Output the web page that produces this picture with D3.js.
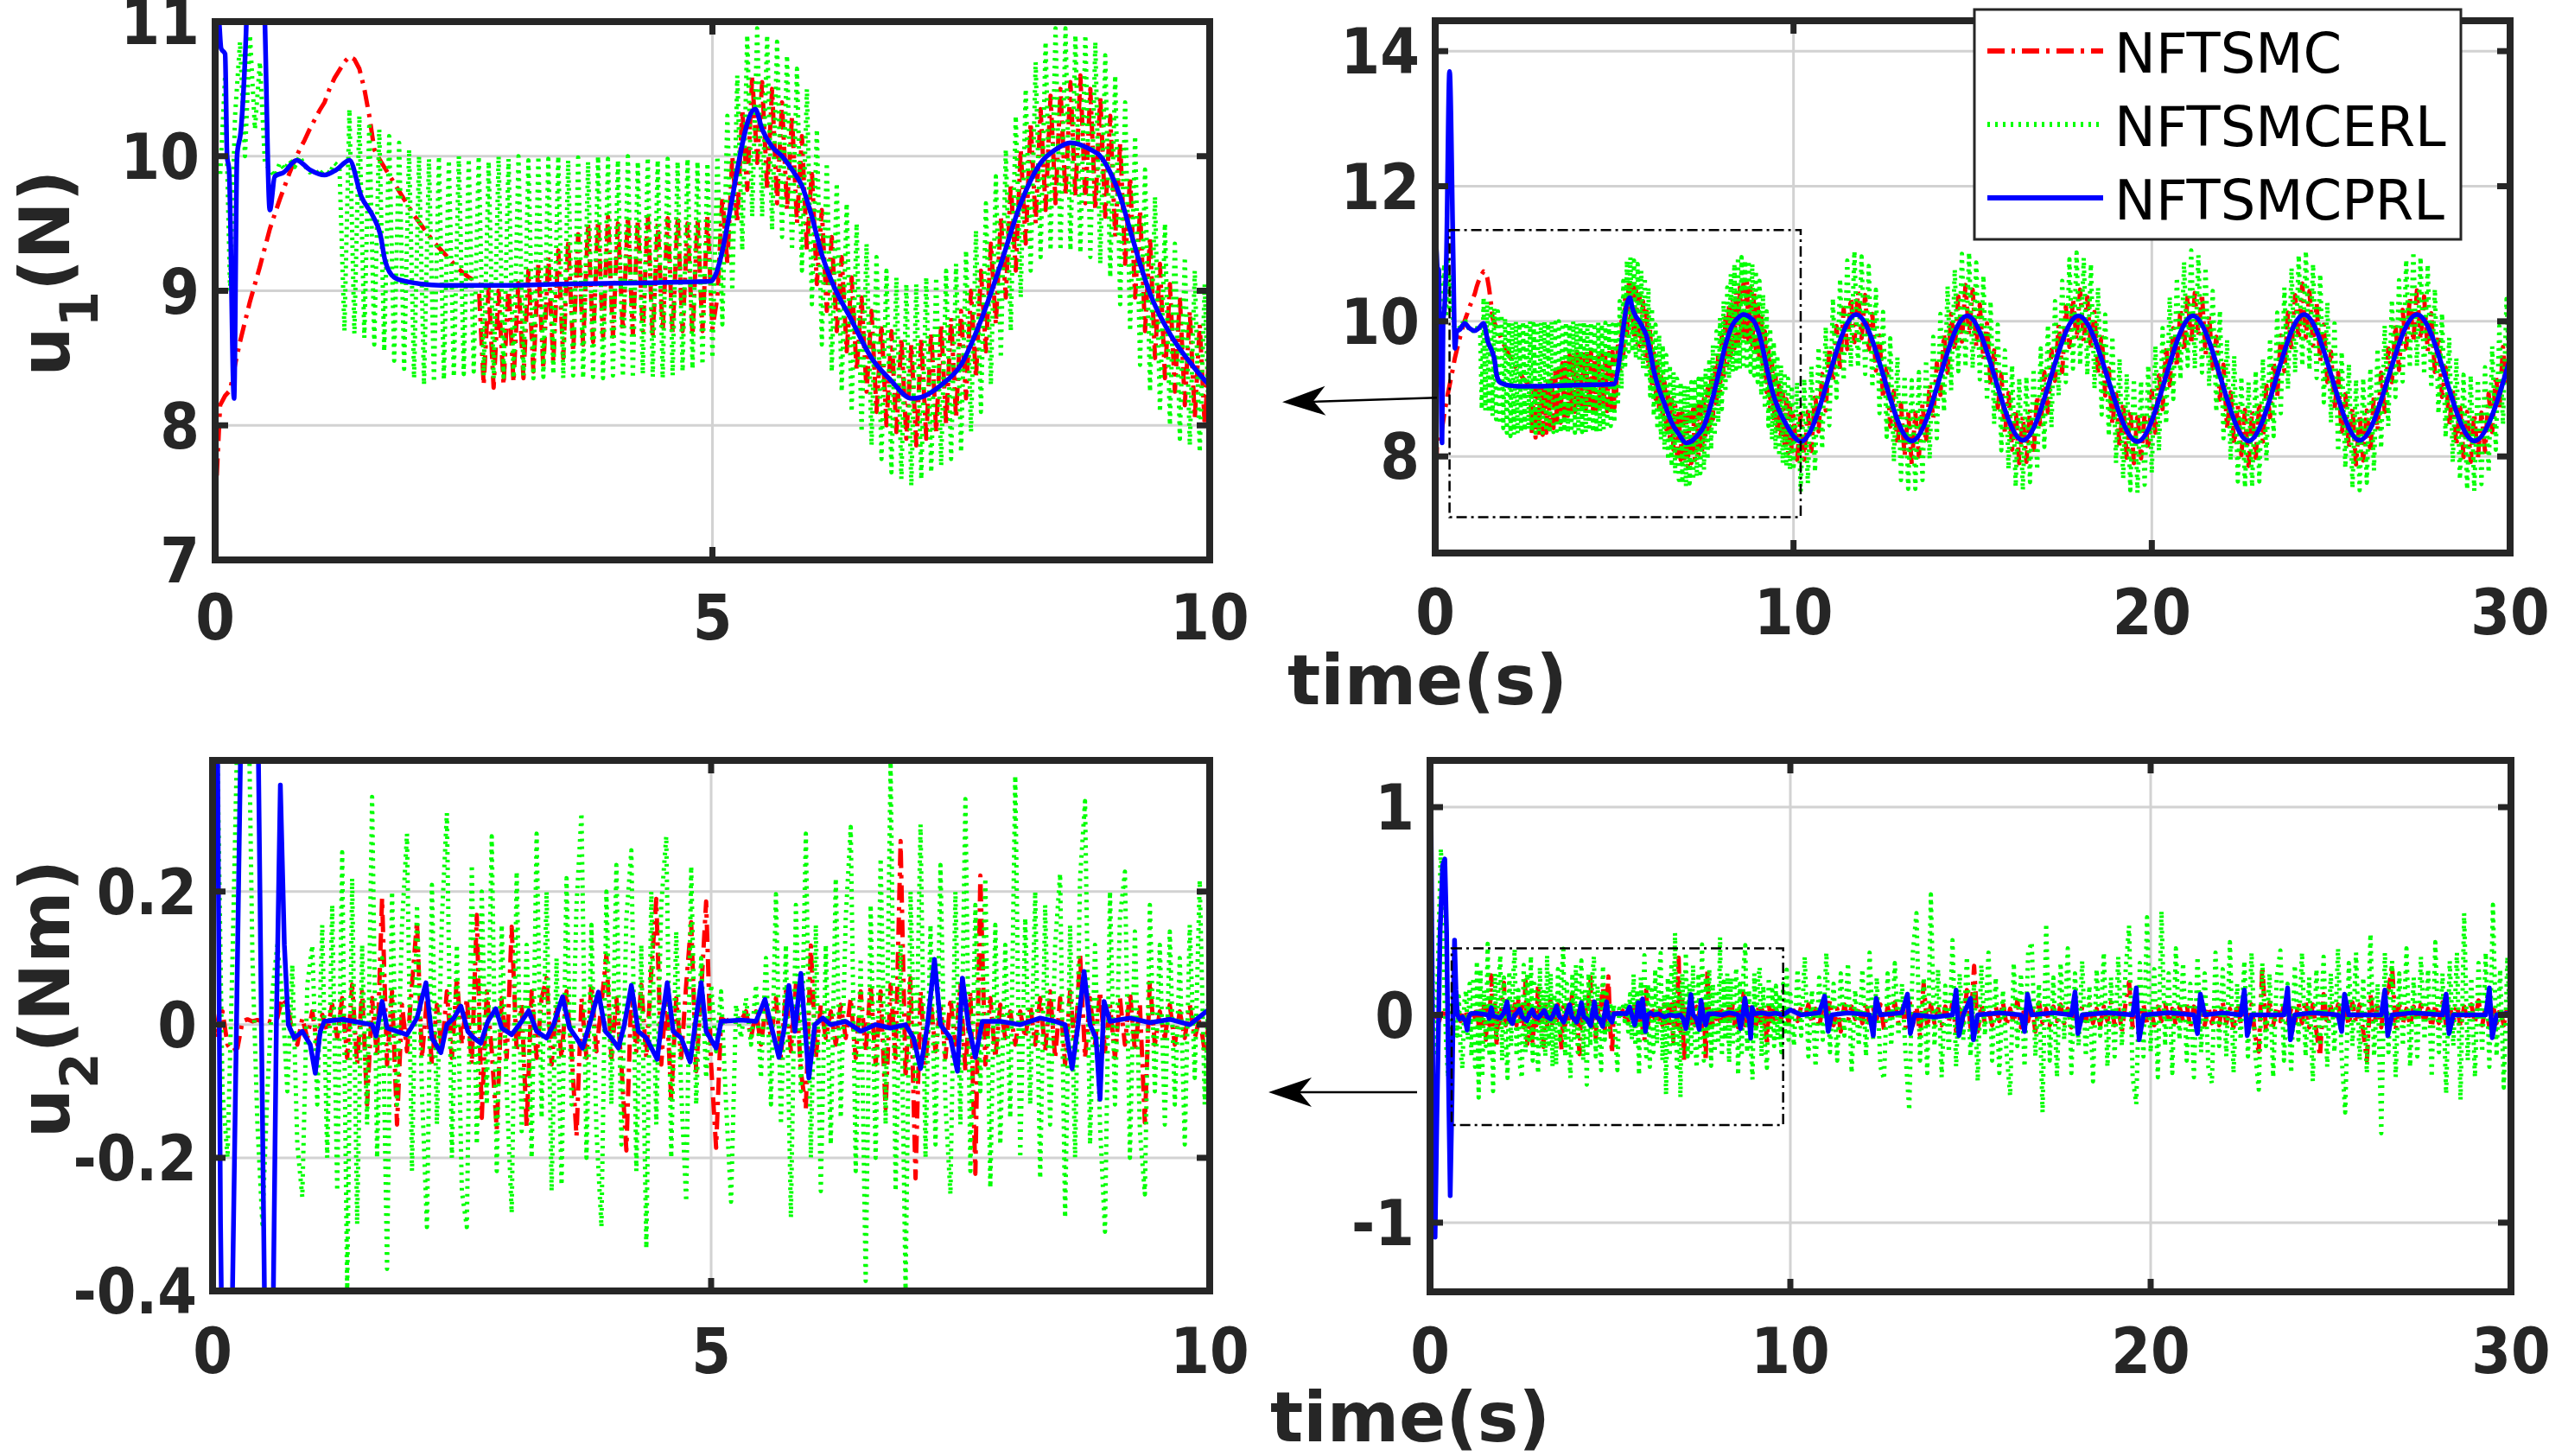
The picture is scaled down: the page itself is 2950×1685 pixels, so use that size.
<!DOCTYPE html>
<html>
<head>
<meta charset="utf-8">
<script src="https://cdn.jsdelivr.net/npm/d3@7"></script>
<style>
  body { margin: 0; background: #fff; }
  svg { display: block; }
</style>
</head>
<body>
<svg id="chart" width="2950" height="1685"></svg>
<script>
// ---- data ----
// first 10 s sampled every 0.05 s, 10..30 s every 0.1 s
const redU1a = [7.37,8.15,8.22,8.26,8.45,8.62,8.77,8.92,9.05,9.18,9.32,9.46,9.57,9.68,
  9.78,9.88,9.97,10.05,10.12,10.2,10.27,10.34,10.4,10.5,10.58,10.64,10.7,10.74,
  10.72,10.65,10.5,10.3,10.05,9.98,9.92,9.86,9.8,9.74,9.68,9.62,9.56,9.51,
  9.46,9.41,9.36,9.32,9.28,9.24,9.2,9.16,9.13,9.1,9.08,9.05,
  8.3,9.02,8.28,9.0,8.3,9.04,8.32,9.08,8.35,9.15,8.4,9.2,8.42,9.25,
  8.47,9.3,8.5,9.38,8.55,9.42,8.6,9.5,8.62,9.52,8.66,9.55,8.66,9.5,
  8.7,9.55,8.68,9.52,8.7,9.55,8.66,9.5,8.7,9.54,8.68,9.55,8.7,9.5,
  8.67,9.53,8.7,9.55,8.72,
  8.95,9.7,9.2,10.0,9.5,10.35,9.75,10.6,9.95,10.55,9.75,10.5,9.65,10.4,
  9.6,10.3,9.5,10.15,9.3,9.9,9.05,9.6,8.85,9.4,8.7,9.25,8.55,9.1,
  8.4,8.95,8.25,8.85,8.1,8.75,8.0,8.7,7.95,8.65,7.9,8.6,7.85,8.65,
  7.9,8.7,7.95,8.75,8.0,8.8,8.05,8.85,8.2,9.0,8.35,9.15,8.55,9.35,
  8.75,9.55,8.95,9.8,9.15,10.05,9.35,10.25,9.5,10.35,9.6,10.45,9.65,10.5,
  9.7,10.55,9.7,10.6,9.65,10.5,9.6,10.45,9.55,10.3,9.4,10.1,9.2,9.85,
  8.95,9.6,8.7,9.4,8.5,9.2,8.35,9.05,8.25,8.95,8.15,8.85,8.05,8.75,
  8.0,8.6];
const redU1b = [7.95,
  8.63,7.95,8.66,8.08,8.94,8.37,9.22,8.68,9.61,9.09,9.93,9.29,10.19,9.59,10.35,9.69,10.44,9.75,10.39,9.54,10.11,9.27,9.79,8.86,9.34,8.44,8.97,8.16,8.78,8.00,8.67,
  7.88,8.65,8.00,8.78,8.20,9.07,8.56,9.38,8.91,9.81,9.24,10.11,9.57,10.37,9.70,10.54,9.79,10.47,9.62,10.25,9.43,9.97,9.07,9.57,8.72,9.22,8.33,8.94,8.10,8.70,7.90,
  8.6,7.92,8.7,8.05,8.9,8.4,9.25,8.65,9.58,9.12,9.95,9.25,10.22,9.62,10.33,9.72,10.47,9.7,10.36,9.58,10.14,9.24,9.82,8.9,9.3,8.47,8.99,8.13,8.8,7.98,8.7,
  7.9,
  8.65,7.97,8.62,8.1,8.97,8.35,9.2,8.7,9.63,9.05,9.9,9.32,10.2,9.55,10.38,9.66,10.42,9.78,10.41,9.5,10.09,9.3,9.77,8.84,9.36,8.42,8.95,8.18,8.76,8.02,8.69,
  7.86,8.68,7.98,8.8,8.22,9.05,8.58,9.4,8.88,9.79,9.26,10.13,9.55,10.39,9.72,10.56,9.76,10.45,9.64,10.27,9.4,9.95,9.1,9.55,8.7,9.24,8.3,8.92,8.12,8.72,7.88,
  8.62,7.94,8.68,8.06,8.92,8.38,9.24,8.66,9.6,9.1,9.95,9.28,10.17,9.6,10.36,9.7,10.46,9.73,10.37,9.56,10.12,9.25,9.8,8.88,9.32,8.45,8.98,8.15,8.79,7.99,8.66,
  7.92,
  8.64,7.96,8.65,8.07,8.93,8.36,9.21,8.69,9.62,9.08,9.94];

const greenU1a = [10.0,9.85,10.6,9.0,10.3,10.85,10.0,10.9,10.2,10.7,9.95,9.9,9.85,9.95,
  9.9,9.97,9.92,10.0,9.93,9.88,9.9,9.86,9.9,9.87,9.95,9.92,
  8.7,10.35,8.68,10.3,8.65,10.25,8.6,10.2,8.55,10.15,8.48,10.1,8.42,10.05,
  8.35,10.0,8.3,9.98,8.32,10.0,8.34,9.97,8.36,10.0,8.38,9.98,8.4,10.0,
  8.37,9.96,8.35,10.0,8.36,9.98,8.35,10.0,8.37,9.97,8.35,10.0,8.36,9.98,
  8.38,10.0,8.35,9.97,8.37,9.99,8.35,9.96,8.36,10.0,8.35,9.98,8.37,9.97,
  8.36,10.0,8.35,9.96,8.38,9.99,8.36,9.97,8.35,9.98,8.37,9.96,8.4,9.98,
  8.42,9.96,8.45,9.95,8.5,
  10.0,8.75,10.3,9.0,10.6,9.3,10.9,9.55,10.95,9.55,10.9,9.45,10.85,9.4,
  10.75,9.3,10.65,9.15,10.5,8.9,10.2,8.6,9.95,8.4,9.8,8.25,9.65,8.1,
  9.5,7.95,9.35,7.85,9.25,7.75,9.15,7.65,9.1,7.6,9.05,7.55,9.05,7.6,
  9.1,7.65,9.1,7.7,9.15,7.75,9.2,7.8,9.3,7.95,9.45,8.1,9.65,8.3,
  9.85,8.5,10.05,8.7,10.3,8.95,10.5,9.15,10.7,9.25,10.85,9.3,10.95,9.3,
  10.95,9.3,10.9,9.28,10.9,9.25,10.85,9.2,10.75,9.1,10.6,8.9,10.4,8.7,
  10.15,8.45,9.9,8.25,9.7,8.1,9.5,8.0,9.35,7.9,9.25,7.85,9.15,7.8,
  9.05,7.8];
const greenU1b = [9.1,
  7.48,9.15,7.60,9.33,7.77,9.62,8.11,9.92,8.46,10.34,8.87,10.63,9.12,10.90,9.32,11.04,9.32,10.96,9.22,10.82,9.02,10.47,8.64,10.14,8.29,9.75,7.92,9.47,7.65,9.20,7.52,
  9.13,7.52,9.25,7.65,9.43,7.96,9.77,8.27,10.11,8.66,10.52,8.98,10.77,9.26,11.00,9.32,11.02,9.30,10.87,9.14,10.68,8.82,10.30,8.48,9.95,8.09,9.57,7.81,9.35,7.55,9.16,
  7.5,9.18,7.62,9.3,7.8,9.6,8.14,9.95,8.43,10.3,8.9,10.6,9.1,10.92,9.3,11.02,9.35,10.94,9.2,10.85,9.0,10.5,8.62,10.1,8.3,9.78,7.9,9.45,7.67,9.22,7.5,
  9.15,
  7.46,9.12,7.58,9.35,7.75,9.64,8.08,9.9,8.48,10.36,8.85,10.65,9.14,10.88,9.34,11.05,9.3,10.98,9.24,10.8,9.04,10.45,8.66,10.16,8.27,9.73,7.94,9.49,7.63,9.18,7.54,
  9.1,7.55,9.27,7.63,9.45,7.94,9.75,8.3,10.13,8.64,10.5,9.0,10.79,9.24,10.98,9.34,11.04,9.28,10.85,9.16,10.7,8.8,10.28,8.5,9.97,8.07,9.55,7.83,9.37,7.53,9.14,
  7.5,9.16,7.61,9.31,7.79,9.6,8.12,9.94,8.45,10.32,8.88,10.61,9.11,10.91,9.31,11.03,9.33,10.95,9.21,10.84,9.01,10.48,8.63,10.12,8.28,9.76,7.91,9.46,7.66,9.21,7.51,
  9.2,
  7.49,9.14,7.59,9.32,7.76,9.63,8.1,9.93,8.47,10.33,8.86];

// blue (PRL) is smooth: [time, value] key points
const blueU1 = [[0,11.3],[0.04,11.0],[0.06,10.8],[0.1,10.76],[0.12,10.0],[0.14,9.9],[0.19,8.2],[0.22,10.0],
  [0.26,10.2],[0.31,10.9],[0.4,13.7],[0.5,11.0],[0.55,9.6],[0.6,9.85],[0.69,9.88],[0.82,9.97],[0.95,9.9],
  [1.1,9.86],[1.22,9.9],[1.35,9.97],[1.47,9.7],[1.59,9.55],[1.66,9.42],[1.71,9.22],[1.8,9.1],[1.92,9.07],
  [2.08,9.05],[2.3,9.04],[2.8,9.04],[3.5,9.05],[4.4,9.06],[4.98,9.07],[5.43,10.35],[5.5,10.2],[5.6,10.07],
  [5.7,10.0],[5.8,9.9],[5.9,9.78],[6.0,9.55],[6.1,9.27],[6.2,9.07],[6.4,8.78],[6.6,8.5],[6.8,8.33],[7.0,8.2],
  [7.1,8.21],[7.3,8.3],[7.5,8.45],[7.7,8.78],[7.9,9.2],[8.1,9.65],[8.3,9.95],[8.45,10.05],[8.6,10.1],[8.8,10.05],
  [8.9,10.0],[9.0,9.88],[9.1,9.7],[9.2,9.45],[9.3,9.2],[9.4,8.98],[9.6,8.68],[9.8,8.47],[10.0,8.3],[10.2,8.22],
  [11.75,10.1],[13.3,8.23],[14.85,10.08],[16.4,8.24],[17.95,10.08],[19.6,8.22],[21.15,10.08],[22.7,8.23],
  [24.25,10.1],[25.8,8.24],[27.4,10.1],[29.0,8.23],[30.0,9.45]];

const redU2a = [0.03,-0.02,0.02,-0.03,-0.04,-0.035,0.005,0.008,0.005,0.007,0.005,0.006,0.004,0.01,
  0.04,0.03,-0.01,-0.03,0.01,-0.02,0.02,-0.03,0.015,-0.01,0.03,-0.02,0.04,-0.05,
  0.06,-0.06,0.05,-0.12,0.04,-0.05,0.19,-0.06,0.05,-0.15,0.03,-0.04,0.06,0.155,
  -0.05,0.04,-0.06,0.03,-0.04,0.05,-0.05,0.07,-0.03,0.04,-0.06,0.165,-0.14,0.05,
  -0.04,-0.157,0.04,-0.05,0.147,-0.04,0.03,-0.154,0.05,-0.05,0.04,0.07,-0.06,0.03,
  -0.05,0.05,-0.04,-0.168,0.04,-0.05,0.06,-0.04,0.03,0.105,-0.05,0.04,-0.06,-0.189,
  0.05,-0.04,0.06,-0.05,0.08,0.189,-0.06,0.05,-0.112,0.04,-0.05,0.06,0.154,-0.07,
  0.05,0.185,-0.06,-0.185,0.01,0.005,0.01,0.004,0.006,0.02,-0.02,0.02,-0.03,0.03,
  -0.02,0.04,-0.05,0.05,-0.04,0.06,-0.07,-0.126,0.119,-0.05,0.03,-0.02,0.02,-0.03,
  0.03,-0.02,0.04,-0.05,0.05,-0.04,0.06,-0.06,0.05,-0.126,0.06,-0.05,0.276,-0.08,
  0.07,-0.231,0.05,-0.06,0.04,-0.04,0.03,-0.05,0.04,-0.03,0.06,-0.07,0.05,-0.224,
  0.224,-0.06,0.04,-0.05,0.03,-0.02,0.02,-0.03,0.02,-0.02,0.03,-0.03,0.04,-0.04,
  0.05,-0.05,0.04,-0.06,0.05,-0.04,0.105,-0.05,0.04,-0.03,0.05,-0.04,0.03,-0.05,
  0.04,-0.03,0.05,-0.04,0.03,-0.147,0.066,-0.03,0.02,-0.02,0.03,-0.03,0.02,-0.02,
  0.03,-0.02,0.01,-0.04,0.01];
const redU2b = [0.02,-0.03,0.04,-0.02,0.05,-0.04,0.03,-0.06,0.04,-0.03,
  0.07,-0.05,0.03,-0.08,0.05,-0.03,0.04,-0.02,0.03,-0.04,
  0.06,-0.05,0.03,-0.02,0.05,-0.07,0.04,-0.03,0.06,-0.04,
  0.03,-0.06,0.08,-0.05,0.04,-0.1,0.15,-0.06,0.05,-0.04,
  0.03,-0.05,0.04,-0.03,0.06,-0.08,0.05,-0.04,0.12,-0.06,
  0.236,-0.08,0.05,-0.04,0.03,-0.05,0.04,-0.03,0.06,-0.05,
  0.03,-0.04,0.07,-0.06,0.04,-0.03,0.05,-0.08,0.06,-0.04,
  0.03,-0.05,0.04,-0.03,0.05,-0.04,0.03,-0.06,0.07,-0.05,
  0.04,-0.03,0.05,-0.04,0.03,-0.05,0.04,-0.03,0.06,-0.05,
  0.04,-0.08,0.05,0.157,-0.06,0.04,-0.03,0.05,-0.04,0.03,
  -0.05,0.04,-0.03,0.06,-0.04,0.03,-0.05,0.04,-0.03,0.05,
  -0.06,0.04,-0.03,0.07,-0.05,0.04,-0.04,0.03,-0.05,0.06,
  -0.04,0.03,-0.06,0.05,-0.04,0.08,-0.06,0.05,-0.1,-0.177,
  0.236,-0.08,0.06,-0.05,0.04,-0.03,0.05,-0.04,0.03,-0.05,
  0.06,-0.04,0.07,-0.06,0.05,-0.08,-0.2,0.1,-0.05,0.04,
  -0.03,0.05,-0.04,0.03,-0.05,0.06,-0.04,0.05,-0.08,-0.22,
  0.1,-0.05,0.04,-0.06,0.08,0.12,0.236,-0.07,0.05,-0.04,
  0.03,-0.05,0.04,-0.03,0.05,-0.04,0.03,-0.06,0.05,-0.04,
  0.06,-0.05,0.04,-0.03,0.05,-0.06,0.04,-0.03,0.05,-0.04,
  0.07,-0.05,0.04,-0.06,0.05,-0.04,0.03,-0.05,0.04,-0.02];

const greenU2a = [0.95,0.4,-0.1,-0.2,0.1,0.45,0.8,0.6,0.1,-0.15,-0.3,-0.1,0.05,0.12,
  0.04,-0.1,0.09,-0.18,-0.259,0.06,0.119,-0.12,0.15,-0.2,0.18,-0.25,0.259,-0.398,
  0.22,-0.3,0.12,-0.15,0.342,-0.2,0.1,-0.367,0.2,-0.12,0.15,0.287,-0.22,0.18,
  -0.1,-0.304,0.21,-0.15,0.16,0.318,-0.2,0.12,-0.25,-0.304,0.24,-0.18,0.2,-0.12,
  0.283,-0.22,0.15,-0.1,-0.283,0.23,-0.16,0.12,-0.2,0.287,-0.14,0.2,-0.25,0.1,
  -0.241,0.22,-0.12,0.18,0.318,-0.2,0.15,-0.16,-0.304,0.2,-0.12,0.24,-0.18,0.16,
  0.262,-0.22,0.12,-0.336,0.2,-0.15,0.18,0.283,-0.2,0.14,-0.1,-0.266,0.238,-0.12,
  0.1,-0.08,0.06,-0.04,0.05,-0.12,-0.266,0.03,-0.02,0.04,-0.03,0.06,-0.08,0.1,
  -0.12,0.196,-0.15,0.12,-0.29,0.18,-0.1,0.287,-0.2,0.15,-0.25,0.12,-0.18,0.22,
  -0.14,0.16,0.297,-0.22,0.1,-0.385,0.18,-0.2,0.25,-0.15,0.395,-0.25,0.12,-0.398,
  0.2,-0.1,0.301,-0.2,0.15,-0.18,0.24,-0.12,-0.255,0.2,-0.15,0.339,-0.22,0.18,
  -0.1,0.22,-0.245,0.15,-0.18,0.12,-0.14,0.374,-0.2,0.16,-0.12,0.2,-0.231,0.18,
  -0.15,0.12,0.227,-0.29,0.15,-0.2,0.22,0.336,-0.18,0.12,-0.15,-0.311,0.2,-0.12,
  0.16,0.23,-0.2,0.14,-0.16,-0.255,0.18,-0.1,0.12,-0.15,0.14,-0.12,0.1,-0.18,
  0.15,-0.08,0.217,-0.12,0.1];
const greenU2b = [-0.15,0.22,-0.1,0.28,-0.2,0.12,-0.25,0.18,-0.12,0.3,
  -0.18,0.15,-0.22,0.2,-0.1,0.25,-0.28,0.12,-0.15,0.22,
  -0.2,0.3,-0.12,0.18,-0.25,-0.31,0.2,-0.15,0.25,-0.1,
  0.15,-0.2,-0.46,0.3,0.49,-0.22,0.18,-0.28,0.58,-0.15,
  0.22,-0.3,0.14,-0.18,0.36,-0.25,0.2,-0.12,0.28,-0.2,
  0.15,-0.32,0.24,-0.1,0.3,-0.22,0.18,-0.28,0.12,-0.18,
  -0.39,0.25,-0.15,0.2,-0.25,0.3,0.35,-0.2,0.15,-0.47,
  0.44,-0.22,0.18,-0.3,0.25,-0.12,0.32,-0.28,0.2,-0.15,
  0.26,-0.2,0.14,-0.32,0.22,-0.1,0.3,-0.25,0.18,-0.2,
  0.28,-0.15,0.2,0.43,-0.3,-0.43,0.25,-0.2,0.47,-0.18,
  0.22,-0.3,0.5,-0.15,0.2,-0.28,0.32,-0.12,0.25,-0.22,
  0.15,-0.3,0.28,-0.18,0.2,-0.25,-0.33,0.3,-0.15,0.22,
  -0.2,0.35,-0.28,0.15,-0.12,0.26,-0.2,0.3,-0.18,-0.36,
  0.25,-0.15,0.2,-0.3,0.18,0.31,-0.22,0.15,-0.28,0.24,
  -0.12,0.3,-0.2,0.18,-0.32,0.22,-0.15,0.28,-0.25,0.2,
  -0.18,0.32,-0.2,-0.47,0.25,-0.15,0.3,-0.22,0.18,-0.28,
  0.39,-0.2,0.15,-0.57,0.3,-0.18,0.26,-0.3,0.2,-0.15,
  0.32,-0.25,0.18,-0.2,0.28,-0.12,0.22,-0.3,0.35,-0.18,
  0.2,-0.38,0.26,-0.15,0.3,-0.41,0.49,-0.22,0.18,-0.3,
  0.25,-0.18,0.3,-0.25,0.53,-0.2,0.22,-0.35,0.28,-0.15];

const blueU2 = [[0,0.95],[0.03,0.9],[0.08,-0.3],[0.14,-1.07],[0.19,-0.5],[0.24,0.0],[0.28,0.4],[0.35,0.72],
  [0.41,0.75],[0.46,0.4],[0.49,0.0],[0.52,-0.4],[0.56,-0.87],[0.61,-0.4],[0.64,0.0],[0.68,0.36],[0.72,0.12],
  [0.76,0.0],[0.82,-0.02],[0.9,-0.01],[0.98,-0.03],[1.03,-0.073],[1.08,-0.01],[1.12,0.005],[1.3,0.008],
  [1.45,0.004],[1.6,0.0],[1.64,-0.017],[1.7,0.035],[1.75,-0.005],[1.85,-0.01],[1.95,-0.015],[2.05,0.01],
  [2.14,0.063],[2.2,-0.02],[2.29,-0.042],[2.35,0.0],[2.42,0.01],[2.49,0.028],[2.56,-0.01],[2.62,-0.02],
  [2.69,-0.028],[2.76,0.005],[2.84,0.024],[2.9,-0.005],[3.0,-0.015],[3.1,0.005],[3.17,0.021],[3.25,-0.01],
  [3.35,-0.02],[3.42,0.0],[3.51,0.042],[3.58,-0.005],[3.65,-0.02],[3.71,-0.035],[3.78,0.0],[3.87,0.049],
  [3.94,-0.01],[4.0,-0.02],[4.07,-0.035],[4.13,0.0],[4.2,0.059],[4.27,-0.01],[4.35,-0.02],[4.46,-0.052],
  [4.5,0.0],[4.56,0.063],[4.62,-0.01],[4.7,-0.02],[4.79,-0.056],[4.84,0.0],[4.9,0.063],[4.95,-0.01],
  [5.05,-0.035],[5.1,0.005],[5.3,0.007],[5.45,0.005],[5.54,0.038],[5.6,0.0],[5.68,-0.049],[5.74,0.0],
  [5.78,0.059],[5.84,-0.01],[5.9,0.077],[5.98,-0.08],[6.04,0.0],[6.12,0.01],[6.2,0.0],[6.35,0.005],
  [6.5,-0.01],[6.65,0.0],[6.8,-0.005],[6.95,0.0],[7.03,-0.02],[7.1,-0.066],[7.17,0.0],[7.24,0.098],
  [7.3,0.0],[7.4,-0.02],[7.47,-0.07],[7.52,0.07],[7.58,0.0],[7.65,-0.049],[7.72,0.005],[7.9,0.005],
  [8.1,0.0],[8.3,0.01],[8.45,0.005],[8.55,0.0],[8.62,-0.066],[8.68,0.0],[8.74,0.08],[8.8,0.0],[8.86,-0.02],
  [8.9,-0.112],[8.94,0.035],[9.0,0.005],[9.2,0.01],[9.4,0.003],[9.6,0.008],[9.8,0.0],[10.0,0.024],
  [10.3,0.0],[10.8,0.01],[10.95,0.09],[11.05,-0.08],[11.15,0.0],[11.6,0.01],[12.2,0.0],[12.3,-0.1],
  [12.38,0.08],[12.5,0.0],[13.1,0.01],[13.25,0.1],[13.33,-0.09],[13.45,0.0],[14.0,-0.01],[14.5,0.0],
  [14.6,0.12],[14.68,-0.1],[14.8,0.0],[15.0,0.08],[15.08,-0.12],[15.2,0.0],[15.8,0.01],[16.4,0.0],
  [16.5,-0.08],[16.58,0.1],[16.7,0.0],[17.3,0.01],[17.8,0.0],[17.9,0.11],[17.98,-0.09],[18.1,0.0],
  [18.8,0.01],[19.5,0.0],[19.6,0.13],[19.68,-0.12],[19.8,0.0],[20.5,0.01],[21.2,0.0],[21.3,-0.09],
  [21.38,0.1],[21.5,0.0],[22.0,0.01],[22.5,0.0],[22.6,0.12],[22.68,-0.1],[22.8,0.0],[23.7,0.0],
  [23.8,0.13],[23.88,-0.12],[24.0,0.0],[24.5,0.01],[25.2,0.0],[25.3,-0.08],[25.38,0.1],[25.5,0.0],
  [26.4,0.0],[26.5,0.12],[26.58,-0.1],[26.7,0.0],[27.3,0.01],[28.1,0.0],[28.2,0.1],[28.28,-0.09],
  [28.4,0.0],[29.3,0.0],[29.4,0.13],[29.48,-0.11],[29.6,0.0],[30,0.01]];

const legendNames = ["NFTSMC", "NFTSMCERL", "NFTSMCPRL"];
const xTicksZoom = [0, 5, 10];
const xTicksFull = [0, 10, 20, 30];
const yTicksU1Zoom = [7, 8, 9, 10, 11];
const yTicksU1Full = [8, 10, 12, 14];
const yTicksU2Zoom = [-0.4, -0.2, 0, 0.2];
const yTicksU2Full = [-1, 0, 1];

// ---- drawing ----
const svg = d3.select("#chart");
const ink = "#262626";
const tickFont = "'DejaVu Sans Condensed', 'DejaVu Sans', sans-serif";
const labelFont = "'DejaVu Sans', sans-serif";

function sampled(first, rest) {
    const a = first.map((v, i) => [i * 0.05, v]);
    const b = rest.map((v, i) => [10.1 + i * 0.1, v]);
    return a.concat(b);
}

const styles = [
    { color: "#ff0000", width: 5, dash: "20,8,4,8" },
    { color: "#00ff00", width: 5, dash: "3,6" },
    { color: "#0000ff", width: 5.5, dash: null }
];

const u1 = [sampled(redU1a, redU1b), sampled(greenU1a, greenU1b), blueU1];
const u2 = [sampled(redU2a, redU2b), sampled(greenU2a, greenU2b), blueU2];

const panels = [
    { id: "tl", l: 249, r: 1400, t: 25, b: 648, x: [0, 10], y: [7, 11],
      xt: xTicksZoom, yt: yTicksU1Zoom, data: u1, smoothBlue: true, xLabelDy: 92 },
    { id: "tr", l: 1661, r: 2905, t: 24, b: 640, x: [0, 30], y: [6.57, 14.45],
      xt: xTicksFull, yt: yTicksU1Full, data: u1, smoothBlue: true, xLabelDy: 94,
      zoom: [0.4, 10.2, 7.1, 11.35], arrow: { v: 8.87, tail: 2, tip: 1484, drop: 5 } },
    { id: "bl", l: 246, r: 1400, t: 880, b: 1494, x: [0, 10], y: [-0.4, 0.397],
      xt: xTicksZoom, yt: yTicksU2Zoom, data: u2, smoothBlue: false, xLabelDy: 95 },
    { id: "br", l: 1655, r: 2906, t: 880, b: 1495, x: [0, 30], y: [-1.333, 1.225],
      xt: xTicksFull, yt: yTicksU2Full, data: u2, smoothBlue: false, xLabelDy: 94,
      zoom: [0.6, 9.8, -0.53, 0.32], arrow: { v: -0.372, tail: -15, tip: 1468, drop: 0 } }
];

function drawPanel(p) {
    const x = d3.scaleLinear().domain(p.x).range([p.l, p.r]);
    const y = d3.scaleLinear().domain(p.y).range([p.b, p.t]);
    const g = svg.append("g");

    // grid
    g.selectAll(".gx").data(p.xt).join("line")
        .attr("x1", d => x(d)).attr("x2", d => x(d))
        .attr("y1", p.t).attr("y2", p.b)
        .attr("stroke", "#d2d2d2").attr("stroke-width", 3);
    g.selectAll(".gy").data(p.yt).join("line")
        .attr("x1", p.l).attr("x2", p.r)
        .attr("y1", d => y(d)).attr("y2", d => y(d))
        .attr("stroke", "#d2d2d2").attr("stroke-width", 3);

    svg.append("clipPath").attr("id", "clip-" + p.id)
        .append("rect")
        .attr("x", p.l).attr("y", p.t)
        .attr("width", p.r - p.l).attr("height", p.b - p.t);

    const lines = g.append("g").attr("clip-path", `url(#clip-${p.id})`);
    p.data.forEach((series, i) => {
        const gen = d3.line().x(d => x(d[0])).y(d => y(d[1]));
        if (i === 2 && p.smoothBlue) gen.curve(d3.curveMonotoneX);
        const s = styles[i];
        lines.append("path")
            .attr("d", gen(series))
            .attr("fill", "none")
            .attr("stroke", s.color)
            .attr("stroke-width", s.width)
            .attr("stroke-linejoin", "round")
            .attr("stroke-dasharray", s.dash);
    });

    // zoomed region marker and arrow
    if (p.zoom) {
        const [x0, x1, y0, y1] = p.zoom;
        g.append("rect")
            .attr("x", x(x0)).attr("y", y(y1))
            .attr("width", x(x1) - x(x0)).attr("height", y(y0) - y(y1))
            .attr("fill", "none").attr("stroke", "#000")
            .attr("stroke-width", 2.5).attr("stroke-dasharray", "12,5,3,5");

        const ax = p.l + p.arrow.tail;
        const ay = y(p.arrow.v);
        const tx = p.arrow.tip;
        const ty = ay + p.arrow.drop;
        const ang = Math.atan2(ay - ty, ax - tx) * 180 / Math.PI;
        svg.append("line")
            .attr("x1", ax).attr("y1", ay).attr("x2", tx + 30).attr("y2", ty)
            .attr("stroke", "#000").attr("stroke-width", 2.5);
        svg.append("path")
            .attr("d", "M0,0 L50,-17 L36,0 L50,17 Z")
            .attr("transform", `translate(${tx},${ty}) rotate(${ang})`)
            .attr("fill", "#000");
    }

    // frame and inward ticks on all sides
    g.append("rect")
        .attr("x", p.l).attr("y", p.t)
        .attr("width", p.r - p.l).attr("height", p.b - p.t)
        .attr("fill", "none").attr("stroke", ink).attr("stroke-width", 8);
    const tl = 15;
    p.xt.forEach(d => {
        g.append("line").attr("x1", x(d)).attr("x2", x(d)).attr("y1", p.b).attr("y2", p.b - tl)
            .attr("stroke", ink).attr("stroke-width", 7);
        g.append("line").attr("x1", x(d)).attr("x2", x(d)).attr("y1", p.t).attr("y2", p.t + tl)
            .attr("stroke", ink).attr("stroke-width", 7);
    });
    p.yt.forEach(d => {
        g.append("line").attr("x1", p.l).attr("x2", p.l + tl).attr("y1", y(d)).attr("y2", y(d))
            .attr("stroke", ink).attr("stroke-width", 7);
        g.append("line").attr("x1", p.r).attr("x2", p.r - tl).attr("y1", y(d)).attr("y2", y(d))
            .attr("stroke", ink).attr("stroke-width", 7);
    });

    // tick labels
    g.selectAll(".xl").data(p.xt).join("text")
        .attr("x", d => x(d)).attr("y", p.b + p.xLabelDy)
        .attr("text-anchor", "middle")
        .style("font-family", tickFont).style("font-stretch", "condensed")
        .style("font-weight", "bold").style("font-size", "73px")
        .attr("fill", ink)
        .text(d => String(d));
    g.selectAll(".yl").data(p.yt).join("text")
        .attr("x", p.l - 18).attr("y", d => y(d)).attr("dy", "0.36em")
        .attr("text-anchor", "end")
        .style("font-family", tickFont).style("font-stretch", "condensed")
        .style("font-weight", "bold").style("font-size", "73px")
        .attr("fill", ink)
        .text(d => String(d));
}

panels.forEach(drawPanel);

// axis labels
function yLabel(cx, cy, sub, unit) {
    const t = svg.append("text")
        .attr("transform", `translate(${cx},${cy}) rotate(-90)`)
        .attr("text-anchor", "middle")
        .style("font-family", labelFont).style("font-weight", "bold")
        .style("font-size", "80px").attr("fill", ink);
    t.append("tspan").text("u");
    t.append("tspan").attr("dy", 33).style("font-size", "60px").text(sub);
    t.append("tspan").attr("dy", -33).text("(" + unit + ")");
}
yLabel(80, 316, "1", "N");
yLabel(80, 1156, "2", "Nm");

[[1652, 815], [1632, 1668]].forEach(([cx, cy]) => {
    svg.append("text")
        .attr("x", cx).attr("y", cy)
        .attr("text-anchor", "middle")
        .style("font-family", labelFont).style("font-weight", "bold")
        .style("font-size", "80px").attr("fill", ink)
        .text("time(s)");
});

// legend
const legend = svg.append("g");
legend.append("rect")
    .attr("x", 2285).attr("y", 11).attr("width", 563).attr("height", 266)
    .attr("fill", "#fff").attr("stroke", ink).attr("stroke-width", 3);
legendNames.forEach((name, i) => {
    const ly = 59 + i * 85;
    const s = styles[i];
    legend.append("line")
        .attr("x1", 2300).attr("x2", 2434).attr("y1", ly).attr("y2", ly)
        .attr("stroke", s.color).attr("stroke-width", 6)
        .attr("stroke-dasharray", s.dash);
    legend.append("text")
        .attr("x", 2447).attr("y", ly + 25)
        .style("font-family", labelFont).style("font-size", "64px")
        .attr("fill", "#000")
        .text(name);
});
</script>
</body>
</html>
